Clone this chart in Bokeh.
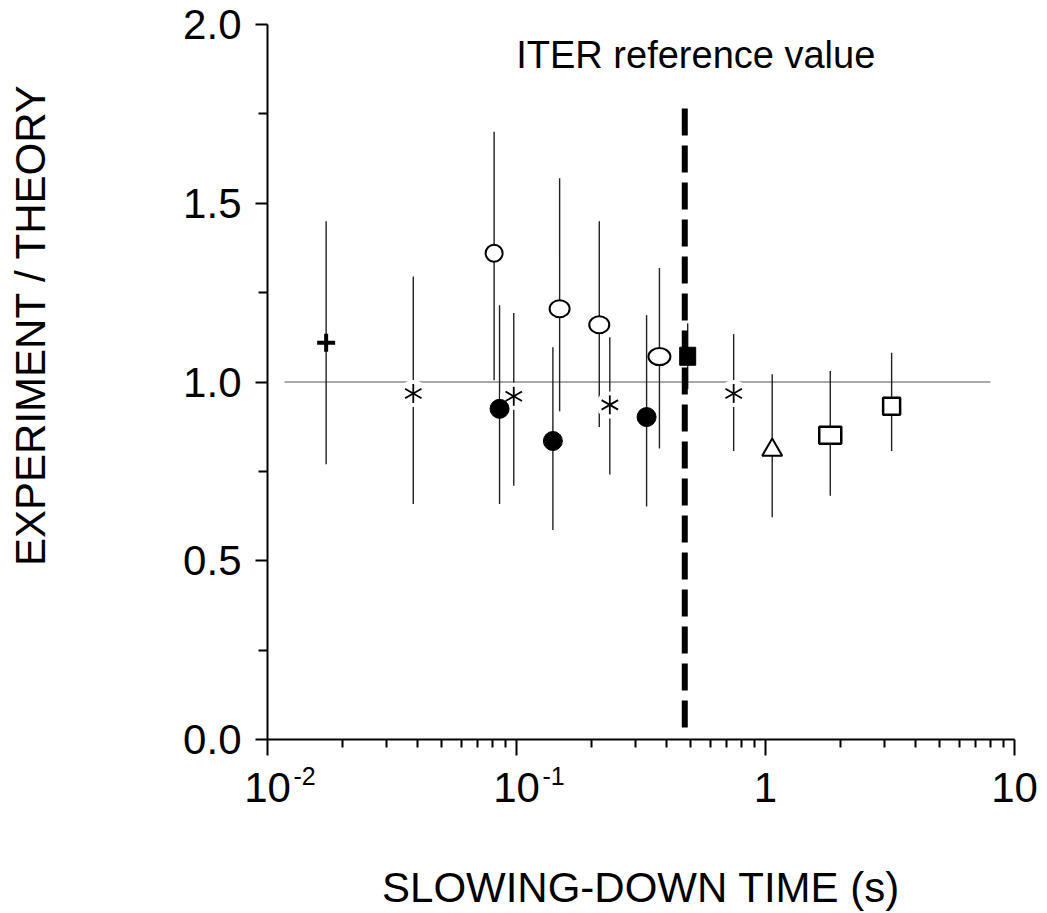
import math
from bokeh.plotting import figure
from bokeh.models import (FixedTicker, PrintfTickFormatter, Label, LogAxis, LinearAxis,
                          CustomJSTickFormatter)
from bokeh.embed import file_html
from bokeh.resources import INLINE

# ---------------- data ----------------
plus_x = [0.0172]
plus_y = [1.11]
plus_lo = [0.77]
plus_hi = [1.45]

star_x = [0.0385, 0.0975, 0.237, 0.745]
star_y = [0.968, 0.960, 0.936, 0.968]
star_lo = [0.659, 0.710, 0.741, 0.807]
star_hi = [1.295, 1.193, 1.125, 1.134]

ocirc_x = [0.0813, 0.149, 0.215, 0.375]
ocirc_y = [1.360, 1.205, 1.160, 1.071]
ocirc_lo = [1.005, 0.918, 0.874, 0.814]
ocirc_hi = [1.70, 1.57, 1.45, 1.319]

fcirc_x = [0.0855, 0.140, 0.333]
fcirc_y = [0.925, 0.835, 0.902]
fcirc_lo = [0.659, 0.586, 0.652]
fcirc_hi = [1.215, 1.097, 1.187]

fsq_x = [0.487]
fsq_y = [1.072]
fsq_lo = [0.98]
fsq_hi = [1.164]

tri_x = [1.064]
tri_y = [0.81]
tri_lo = [0.622]
tri_hi = [1.022]

osq_x = [1.82, 3.21]
osq_y = [0.851, 0.932]
osq_lo = [0.682, 0.807]
osq_hi = [1.031, 1.082]

ref_x = [0.0117, 8.0]
ref_y = [1.0, 1.0]

iter_x = [0.474, 0.474]
iter_y = [1.765, 0.033]

x_ticks = [0.01, 0.1, 1, 10]
x_tick_base = ["10", "10", "1", "10"]
exp_ticks = [0.01, 0.1]
exp_labels = ["-2", "-1"]
x_minor = [m * d for d in (0.01, 0.1, 1) for m in range(2, 10)]
y_ticks = [0.0, 0.5, 1.0, 1.5, 2.0]
y_minor = [0.25, 0.75, 1.25, 1.75]

FONT = "Liberation Sans"
FRAME_W = 747
DEC_PX = FRAME_W / 3.0      # pixels per decade on the x axis
EXP_SHIFT_PX = 37           # exponent drawn to the right of the "10"
YT_CENTER = 1.16            # where the y title is centred along the y axis

p = figure(width=1044, height=913, x_axis_type="log",
           x_range=(0.01, 10), y_range=(0, 2),
           output_backend="svg", toolbar_location=None,
           min_border_left=267, min_border_right=30,
           min_border_top=24, min_border_bottom=173)
p.outline_line_color = None
p.grid.visible = False
p.background_fill_color = "white"
p.border_fill_color = "white"

# axes
xa = p.xaxis[0]
xa.ticker = FixedTicker(ticks=x_ticks, minor_ticks=x_minor)
xa.major_label_overrides = {t: b for t, b in zip(x_ticks, x_tick_base)}
ya = p.yaxis[0]
ya.ticker = FixedTicker(ticks=y_ticks, minor_ticks=y_minor)
ya.formatter = PrintfTickFormatter(format="%.1f")

for ax in (xa, ya):
    ax.axis_line_width = 2
    ax.axis_line_color = "black"
    ax.major_tick_line_width = 2
    ax.minor_tick_line_width = 2
    ax.major_tick_line_color = "black"
    ax.minor_tick_line_color = "black"
    ax.major_tick_in = 0
    ax.minor_tick_in = 0
    ax.major_label_text_font = FONT
    ax.major_label_text_font_size = "42px"
    ax.major_label_text_color = "black"
xa.major_tick_out = 16
xa.minor_tick_out = 8
xa.major_label_standoff = 17
ya.major_tick_out = 12
ya.minor_tick_out = 9
ya.major_label_standoff = 14

BARE = dict(axis_line_color=None, major_tick_line_color=None, minor_tick_line_color=None,
            major_tick_out=0, major_tick_in=0, minor_tick_out=0, minor_tick_in=0)

# exponents of the x tick labels, on a second label-only axis that also carries the title
shift = 10 ** (EXP_SHIFT_PX / DEC_PX)
exp_axis = LogAxis(
    ticker=FixedTicker(ticks=[t * shift for t in exp_ticks], minor_ticks=[]),
    formatter=CustomJSTickFormatter(args=dict(labels=exp_labels),
                                    code="return labels[index]"),
    major_label_standoff=-38,
    major_label_text_font=FONT, major_label_text_font_size="25px",
    major_label_text_color="black",
    axis_label="SLOWING-DOWN TIME (s)", axis_label_standoff=76,
    axis_label_text_font=FONT, axis_label_text_font_size="42px",
    axis_label_text_font_style="normal", axis_label_text_color="black",
    **BARE)
p.add_layout(exp_axis, "below")

# y title, written as the single tick label of a bare axis
ytitle_axis = LinearAxis(
    ticker=FixedTicker(ticks=[YT_CENTER], minor_ticks=[]),
    major_label_overrides={YT_CENTER: "EXPERIMENT / THEORY"},
    major_label_orientation="vertical",
    major_label_standoff=126,
    major_label_text_font=FONT, major_label_text_font_size="42px",
    major_label_text_color="black",
    **BARE)
p.add_layout(ytitle_axis, "left")

p.add_layout(Label(x=iter_x[0], y=2.0, x_offset=11, y_offset=-30,
                   text="ITER reference value",
                   text_font=FONT, text_font_size="38px",
                   text_align="center", text_baseline="alphabetic",
                   text_color="black"))

# reference line at 1
p.line(ref_x, ref_y, line_color="#555555", line_width=1.2)

# error bars
EB = dict(line_color="#222222", line_width=1.4)
for xs, lo, hi in ((plus_x, plus_lo, plus_hi), (star_x, star_lo, star_hi),
                   (ocirc_x, ocirc_lo, ocirc_hi), (fcirc_x, fcirc_lo, fcirc_hi),
                   (fsq_x, fsq_lo, fsq_hi), (tri_x, tri_lo, tri_hi),
                   (osq_x, osq_lo, osq_hi)):
    p.segment(x0=xs, y0=lo, x1=xs, y1=hi, **EB)

# markers
p.scatter(plus_x, plus_y, marker="cross", size=18, line_width=4, line_color="black")

p.scatter(star_x, star_y, marker="circle", size=27, fill_color="white", line_color=None)
for a in (math.pi / 2, math.pi / 6, -math.pi / 6):
    p.scatter(star_x, star_y, marker="dash", size=19, angle=a,
              line_color="black", line_width=1.8)

p.ellipse(ocirc_x, ocirc_y, width=[17, 20, 20, 22], height=17,
          width_units="screen", height_units="screen",
          fill_color="white", line_color="black", line_width=2)

p.scatter(fcirc_x, fcirc_y, marker="circle", size=19,
          fill_color="black", line_color="black")

p.rect(fsq_x, fsq_y, width=16, height=18, width_units="screen", height_units="screen",
       fill_color="black", line_color="black")

p.scatter(tri_x, tri_y, marker="triangle", size=20,
          fill_color="white", line_color="black", line_width=2)

p.rect(osq_x, osq_y, width=[22, 17], height=17, width_units="screen", height_units="screen",
       fill_color="white", line_color="black", line_width=2.5)

# ITER reference value
p.line(iter_x, iter_y, line_color="black", line_width=6, line_dash="27 10")

open("out.html", "w").write(file_html(p, INLINE))
